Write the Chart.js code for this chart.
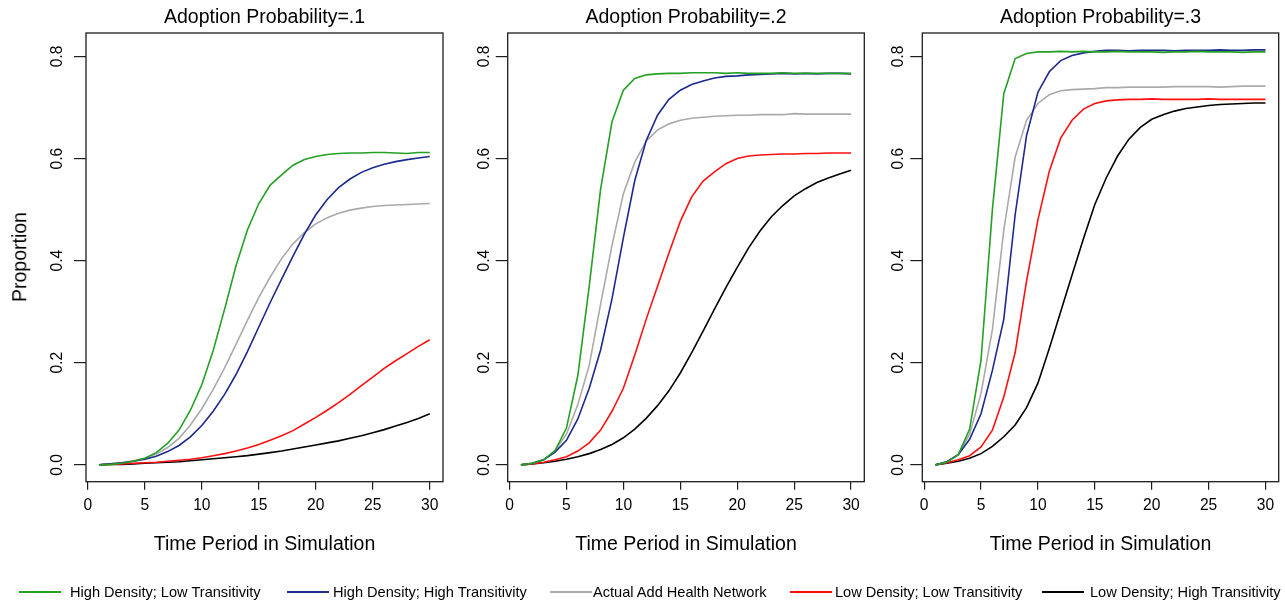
<!DOCTYPE html>
<html>
<head>
<meta charset="utf-8">
<title>Adoption curves by network structure</title>
<script src="https://cdn.jsdelivr.net/npm/chart.js@4.4.1/dist/chart.umd.min.js"></script>
<style>
  html, body { margin: 0; padding: 0; background: #fff; }
  #figure {
    position: relative; width: 1285px; height: 602px; overflow: hidden;
    font-family: "Liberation Sans", Arial, Helvetica, sans-serif; color: #000;
  }
  #figure canvas { position: absolute; top: 0; }
  .txt { position: absolute; white-space: nowrap; line-height: 1; transform: translate(-50%, -50%); }
  .panel-title, .axis-title { font-size: 19.5px; }
  .legend-line { position: absolute; height: 2px; }
  .legend-text { position: absolute; white-space: nowrap; line-height: 1; font-size: 14.6px; transform: translateY(-50%); }
</style>
</head>
<body>
<div id="figure"></div>
<script>
// ---- data ---------------------------------------------------------------
const timePeriods = [1, 2, 3, 4, 5, 6, 7, 8, 9, 10, 11, 12, 13, 14, 15,
                     16, 17, 18, 19, 20, 21, 22, 23, 24, 25, 26, 27, 28, 29, 30];
const xTickValues = [0, 5, 10, 15, 20, 25, 30];
const yTickValues = [0, 0.2, 0.4, 0.6, 0.8];

const seriesNames = [
  'High Density; Low Transitivity',
  'High Density; High Transitivity',
  'Actual Add Health Network',
  'Low Density; Low Transitivity',
  'Low Density; High Transitivity'
];
const panelTitles = ['Adoption Probability=.1', 'Adoption Probability=.2', 'Adoption Probability=.3'];

// adoption probability = .1
const hdltP1 = [0.000, 0.001, 0.003, 0.007, 0.013, 0.024, 0.042, 0.068, 0.107, 0.157, 0.224, 0.305, 0.390, 0.460, 0.512,
                0.548, 0.568, 0.587, 0.598, 0.604, 0.608, 0.610, 0.611, 0.611, 0.612, 0.612, 0.611, 0.610, 0.612, 0.612];
const hdhtP1 = [0.000, 0.002, 0.004, 0.007, 0.011, 0.017, 0.026, 0.038, 0.055, 0.077, 0.105, 0.138, 0.177, 0.222, 0.270,
                0.318, 0.364, 0.409, 0.452, 0.490, 0.520, 0.543, 0.560, 0.573, 0.582, 0.589, 0.594, 0.598, 0.601, 0.604];
const addP1  = [0.000, 0.002, 0.004, 0.008, 0.013, 0.021, 0.034, 0.052, 0.078, 0.110, 0.148, 0.190, 0.236, 0.283, 0.328,
                0.368, 0.404, 0.433, 0.455, 0.472, 0.484, 0.493, 0.499, 0.503, 0.506, 0.508, 0.509, 0.510, 0.511, 0.512];
const ldltP1 = [0.000, 0.001, 0.002, 0.003, 0.004, 0.005, 0.007, 0.009, 0.011, 0.014, 0.018, 0.022, 0.027, 0.033, 0.040,
                0.048, 0.057, 0.067, 0.080, 0.093, 0.107, 0.122, 0.138, 0.155, 0.172, 0.189, 0.204, 0.218, 0.232, 0.245];
const ldhtP1 = [0.000, 0.001, 0.001, 0.002, 0.003, 0.004, 0.005, 0.006, 0.008, 0.010, 0.012, 0.014, 0.016, 0.018, 0.021,
                0.024, 0.027, 0.031, 0.035, 0.039, 0.043, 0.047, 0.052, 0.057, 0.063, 0.069, 0.076, 0.083, 0.091, 0.100];

// adoption probability = .2
const hdltP2 = [0.000, 0.003, 0.010, 0.028, 0.072, 0.175, 0.350, 0.540, 0.672, 0.734, 0.757, 0.764, 0.766, 0.767, 0.767,
                0.768, 0.768, 0.768, 0.767, 0.768, 0.767, 0.767, 0.767, 0.768, 0.767, 0.767, 0.767, 0.767, 0.767, 0.767];
const hdhtP2 = [0.000, 0.003, 0.010, 0.025, 0.048, 0.090, 0.150, 0.225, 0.325, 0.445, 0.557, 0.635, 0.685, 0.716, 0.734,
                0.745, 0.752, 0.758, 0.761, 0.762, 0.764, 0.765, 0.766, 0.767, 0.766, 0.767, 0.766, 0.767, 0.767, 0.766];
const addP2  = [0.000, 0.003, 0.010, 0.028, 0.060, 0.118, 0.195, 0.315, 0.430, 0.531, 0.593, 0.634, 0.656, 0.668, 0.675,
                0.679, 0.681, 0.683, 0.684, 0.685, 0.685, 0.686, 0.686, 0.686, 0.688, 0.687, 0.687, 0.687, 0.687, 0.687];
const ldltP2 = [0.000, 0.002, 0.005, 0.010, 0.016, 0.027, 0.043, 0.068, 0.105, 0.150, 0.215, 0.285, 0.350, 0.415, 0.477,
                0.525, 0.556, 0.574, 0.590, 0.600, 0.605, 0.607, 0.608, 0.609, 0.609, 0.610, 0.610, 0.611, 0.611, 0.611];
const ldhtP2 = [0.000, 0.002, 0.004, 0.007, 0.011, 0.016, 0.022, 0.030, 0.040, 0.053, 0.070, 0.091, 0.116, 0.145, 0.180,
                0.220, 0.262, 0.305, 0.347, 0.387, 0.425, 0.458, 0.486, 0.508, 0.527, 0.541, 0.553, 0.562, 0.570, 0.577];

// adoption probability = .3
const hdltP3 = [0.000, 0.005, 0.020, 0.070, 0.205, 0.500, 0.727, 0.796, 0.806, 0.809, 0.809, 0.810, 0.809, 0.810, 0.809,
                0.809, 0.810, 0.809, 0.809, 0.809, 0.808, 0.809, 0.809, 0.810, 0.809, 0.809, 0.809, 0.808, 0.809, 0.809];
const hdhtP3 = [0.000, 0.006, 0.020, 0.050, 0.100, 0.185, 0.285, 0.490, 0.645, 0.730, 0.770, 0.792, 0.802, 0.807, 0.810,
                0.812, 0.812, 0.811, 0.812, 0.812, 0.812, 0.811, 0.812, 0.812, 0.812, 0.813, 0.812, 0.812, 0.813, 0.813];
const addP3  = [0.000, 0.006, 0.020, 0.060, 0.140, 0.265, 0.460, 0.603, 0.675, 0.708, 0.725, 0.733, 0.735, 0.736, 0.737,
                0.739, 0.739, 0.740, 0.740, 0.740, 0.740, 0.741, 0.741, 0.741, 0.741, 0.740, 0.741, 0.742, 0.742, 0.742];
const ldltP3 = [0.000, 0.004, 0.010, 0.018, 0.035, 0.068, 0.133, 0.220, 0.360, 0.480, 0.575, 0.640, 0.675, 0.697, 0.708,
                0.713, 0.715, 0.716, 0.716, 0.717, 0.716, 0.716, 0.716, 0.716, 0.717, 0.716, 0.716, 0.716, 0.716, 0.716];
const ldhtP3 = [0.000, 0.003, 0.007, 0.013, 0.022, 0.036, 0.055, 0.078, 0.112, 0.160, 0.228, 0.300, 0.372, 0.443, 0.510,
                0.562, 0.605, 0.638, 0.661, 0.677, 0.686, 0.693, 0.698, 0.701, 0.704, 0.706, 0.707, 0.708, 0.709, 0.709];

const panelSeries = [
  [hdltP1, hdhtP1, addP1, ldltP1, ldhtP1],
  [hdltP2, hdhtP2, addP2, ldltP2, ldhtP2],
  [hdltP3, hdhtP3, addP3, ldltP3, ldhtP3]
];

// ---- styling & layout ----------------------------------------------------
const seriesColors = ['#24a024', '#1b2a8c', '#aaaaaa', '#ff1010', '#000000'];
const FONT = '"Liberation Sans", Arial, Helvetica, sans-serif';
const plotTop = 33, plotBottom = 481.7;
const panelBoxes = [
  { left: 86,    right: 443,    yLabelPad: 5 },
  { left: 507.7, right: 864.3,  yLabelPad: 0 },
  { left: 922.3, right: 1278.7, yLabelPad: 1 }
];
const X_RANGE = [-0.16, 31.16];
const Y_RANGE = [-0.033, 0.846];
const Y_AXIS_SPACE = 80, X_AXIS_SPACE = 40;
const legendLineX = [19, 287, 550, 790, 1042];
const legendTextX = [70, 333, 593, 835, 1090];
const legendY = 591.7;

const figure = document.getElementById('figure');

// frame around each plotting region
const framePlugin = {
  id: 'frame',
  afterDraw(chart) {
    const { ctx, chartArea: a } = chart;
    ctx.save();
    ctx.strokeStyle = '#1e1e1e';
    ctx.lineWidth = 1.3;
    ctx.strokeRect(a.left, a.top, a.right - a.left, a.bottom - a.top);
    ctx.restore();
  }
};

function addText(cls, text, x, y, extra) {
  const d = document.createElement('div');
  d.className = 'txt ' + cls;
  d.textContent = text;
  d.style.left = x + 'px';
  d.style.top = y + 'px';
  if (extra) d.style.transform = extra;
  figure.appendChild(d);
  return d;
}

panelBoxes.forEach((box, p) => {
  const canvasLeft = Math.floor(box.left - Y_AXIS_SPACE);
  const yAxisWidth = box.left - canvasLeft;
  const canvasWidth = Math.ceil(box.right - canvasLeft + 6);
  const canvasHeight = 602;

  const canvas = document.createElement('canvas');
  canvas.width = canvasWidth;
  canvas.height = canvasHeight;
  canvas.style.left = canvasLeft + 'px';
  canvas.style.width = canvasWidth + 'px';
  canvas.style.height = canvasHeight + 'px';
  figure.appendChild(canvas);

  const datasets = panelSeries[p].map((values, s) => ({
    label: seriesNames[s],
    data: timePeriods.map((t, i) => ({ x: t, y: values[i] })),
    borderColor: seriesColors[s],
    borderWidth: 1.6,
    pointRadius: 0,
    tension: 0,
    fill: false
  }));

  new Chart(canvas, {
    type: 'line',
    data: { datasets },
    options: {
      responsive: false,
      animation: false,
      devicePixelRatio: 1,
      layout: {
        padding: {
          left: 0,
          top: plotTop,
          right: canvasWidth - (box.right - canvasLeft),
          bottom: canvasHeight - plotBottom - X_AXIS_SPACE
        }
      },
      plugins: { legend: { display: false }, tooltip: { enabled: false } },
      scales: {
        x: {
          type: 'linear',
          min: X_RANGE[0],
          max: X_RANGE[1],
          afterBuildTicks: (scale) => { scale.ticks = xTickValues.map(v => ({ value: v })); },
          afterFit: (scale) => { scale.height = X_AXIS_SPACE; },
          grid: { display: true, drawOnChartArea: false, drawTicks: true, tickLength: 8, color: '#1e1e1e', lineWidth: 1.2 },
          border: { display: false },
          ticks: {
            autoSkip: false, maxRotation: 0, padding: 7, color: '#000',
            font: { family: FONT, size: 15.6 },
            callback: (v) => String(v)
          }
        },
        y: {
          type: 'linear',
          min: Y_RANGE[0],
          max: Y_RANGE[1],
          afterBuildTicks: (scale) => { scale.ticks = yTickValues.map(v => ({ value: v })); },
          afterFit: (scale) => { scale.width = yAxisWidth; },
          grid: { display: true, drawOnChartArea: false, drawTicks: true, tickLength: 12, color: '#1e1e1e', lineWidth: 1.2 },
          border: { display: false },
          ticks: {
            autoSkip: false, minRotation: 90, maxRotation: 90, crossAlign: 'center',
            padding: box.yLabelPad, color: '#000',
            font: { family: FONT, size: 15.6 },
            callback: (v) => Number(v).toFixed(1)
          }
        }
      }
    },
    plugins: [framePlugin]
  });

  const cx = (box.left + box.right) / 2;
  addText('panel-title', panelTitles[p], cx, 17);
  addText('axis-title', 'Time Period in Simulation', cx, 544);
});

addText('axis-title', 'Proportion', 19.5, (plotTop + plotBottom) / 2, 'translate(-50%, -50%) rotate(-90deg)');

// legend row under the panels
seriesNames.forEach((name, s) => {
  const line = document.createElement('div');
  line.className = 'legend-line';
  line.style.left = legendLineX[s] + 'px';
  line.style.width = '42px';
  line.style.top = (legendY - 1) + 'px';
  line.style.backgroundColor = seriesColors[s];
  figure.appendChild(line);

  const t = document.createElement('div');
  t.className = 'legend-text';
  t.textContent = name;
  t.style.left = legendTextX[s] + 'px';
  t.style.top = legendY + 'px';
  figure.appendChild(t);
});
</script>
</body>
</html>
